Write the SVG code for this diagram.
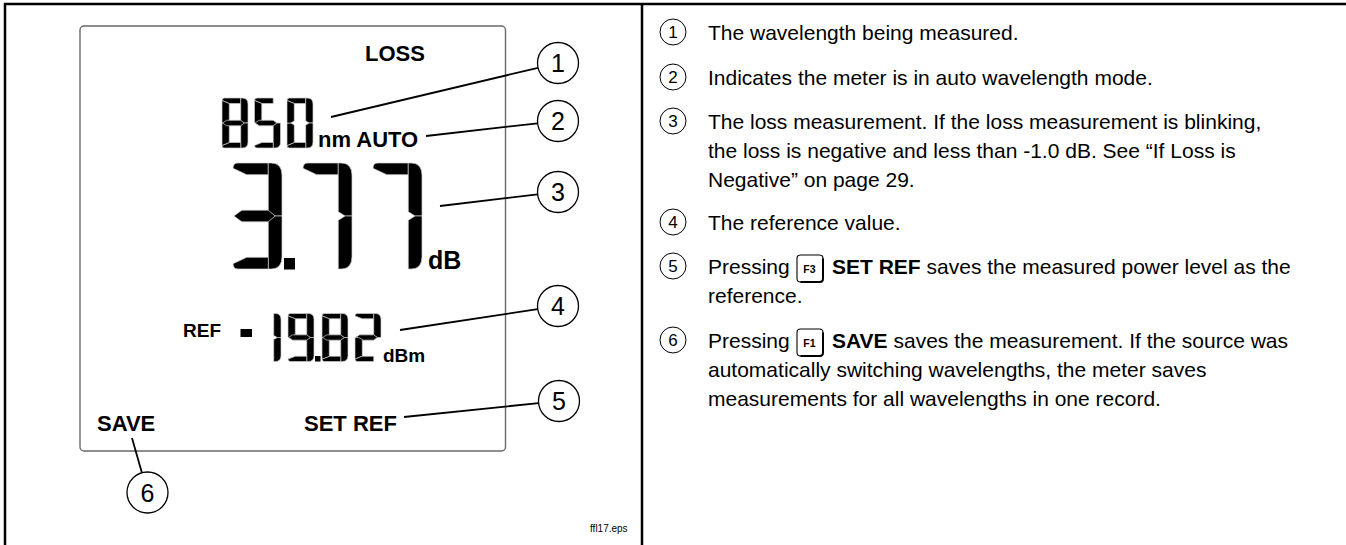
<svg xmlns="http://www.w3.org/2000/svg" width="1346" height="545" viewBox="0 0 1346 545">
<style>
.frame{stroke:#000;stroke-width:2.5;fill:none}
.lcd{fill:none;stroke:#6a6a6a;stroke-width:1.4}
.seg{fill:#000;stroke:#cfcfcf;stroke-width:0.7;vector-effect:non-scaling-stroke;stroke-linejoin:round}
.lb{font-family:"Liberation Sans",Arial,sans-serif;font-weight:bold;fill:#000}
.co{fill:#fff;stroke:#000;stroke-width:1.3}
.cn{font-family:"Liberation Sans",Arial,sans-serif;font-size:25px;text-anchor:middle;fill:#000}
.ld{stroke:#000;stroke-width:1.8;fill:none}
.tx{font-family:"Liberation Sans",Arial,sans-serif;font-size:21px;fill:#000}
.rc{fill:none;stroke:#000;stroke-width:1}
.rn{font-family:"Liberation Sans",Arial,sans-serif;font-size:17px;text-anchor:middle;fill:#000}
.key{fill:#fff;stroke:#000;stroke-width:1.1}
.ksh{fill:none;stroke:#000;stroke-width:2}
.kt{font-family:"Liberation Sans",Arial,sans-serif;font-size:10.5px;font-weight:bold;text-anchor:middle;fill:#000}
.fn{font-family:"Liberation Sans",Arial,sans-serif;font-size:10px;fill:#000}
</style>
<defs>
<path id="sa" class="seg" d="M0,10 Q0,0 10,0 H72 V22 H28 Z"/>
<path id="sb" class="seg" d="M72,0 H78 Q100,0 100,24 V100 H86 L72,92 Z"/>
<path id="sc" class="seg" d="M72,108 L86,100 H100 V176 Q100,200 78,200 H72 Z"/>
<path id="sd" class="seg" d="M0,190 L28,178 H72 V200 H10 Q0,200 0,190 Z"/>
<path id="se" class="seg" d="M0,100 H14 L28,108 V178 L0,190 Z"/>
<path id="sf" class="seg" d="M0,10 L28,22 V92 L14,100 H0 Z"/>
<path id="sg" class="seg" d="M2,100 L18,89 H72 L86,100 L72,111 H18 Z"/>
</defs>

<g id="frame">
<path class="frame" d="M5,545 V4 H1346"/>
<line class="frame" x1="642" y1="4" x2="642" y2="545"/>
</g>

<g id="lcd">
<rect class="lcd" x="80" y="26" width="425.5" height="425" rx="4"/>
</g>

<g id="loss-label"><text class="lb" x="365" y="61" font-size="22">LOSS</text></g>

<g id="wavelength">
<g transform="translate(222,98) scale(0.26,0.25)"><use href="#sa"/><use href="#sb"/><use href="#sc"/><use href="#sd"/><use href="#se"/><use href="#sf"/><use href="#sg"/></g>
<g transform="translate(254.5,98) scale(0.26,0.25)"><use href="#sa"/><use href="#sf"/><use href="#sc"/><use href="#sd"/><use href="#sg"/></g>
<g transform="translate(287,98) scale(0.26,0.25)"><use href="#sa"/><use href="#sb"/><use href="#sc"/><use href="#sd"/><use href="#se"/><use href="#sf"/></g>
<text class="lb" x="318" y="147" font-size="22">nm AUTO</text>
</g>

<g id="loss-value">
<g transform="translate(233,163) scale(0.49,0.53)"><use href="#sa"/><use href="#sb"/><use href="#sc"/><use href="#sd"/><use href="#sg"/></g>
<rect x="284" y="258" width="11" height="11.5" fill="#000"/>
<g transform="translate(303,163) scale(0.49,0.53)"><use href="#sa"/><use href="#sb"/><use href="#sc"/></g>
<g transform="translate(373,163) scale(0.49,0.53)"><use href="#sa"/><use href="#sb"/><use href="#sc"/></g>
<text class="lb" x="428" y="269" font-size="25">dB</text>
</g>

<g id="ref-value">
<text class="lb" x="183" y="337" font-size="19">REF</text>
<rect x="240.5" y="329" width="11.5" height="8" fill="#000"/>
<g transform="translate(255,313.5) scale(0.26,0.24)"><use href="#sb"/><use href="#sc"/></g>
<g transform="translate(288,313.5) scale(0.26,0.24)"><use href="#sa"/><use href="#sb"/><use href="#sc"/><use href="#sd"/><use href="#sf"/><use href="#sg"/></g>
<rect x="315" y="356" width="5.5" height="5.5" fill="#000"/>
<g transform="translate(322,313.5) scale(0.26,0.24)"><use href="#sa"/><use href="#sb"/><use href="#sc"/><use href="#sd"/><use href="#se"/><use href="#sf"/><use href="#sg"/></g>
<g transform="translate(355,313.5) scale(0.26,0.24)"><use href="#sa"/><use href="#sb"/><use href="#sg"/><use href="#se"/><use href="#sd"/></g>
<text class="lb" x="383" y="362" font-size="19">dBm</text>
</g>

<g id="softkeys">
<text class="lb" x="97" y="431" font-size="22">SAVE</text>
<text class="lb" x="304" y="431" font-size="22">SET REF</text>
</g>

<g id="connectors">
<line class="ld" x1="331" y1="117" x2="538" y2="67.8"/>
<line class="ld" x1="426" y1="136" x2="537.6" y2="123.3"/>
<line class="ld" x1="440" y1="206" x2="537.6" y2="194.4"/>
<line class="ld" x1="400" y1="330" x2="537.7" y2="309.1"/>
<line class="ld" x1="404" y1="417" x2="538.6" y2="403.1"/>
<line class="ld" x1="132" y1="438" x2="141.9" y2="472.8"/>
</g>

<g id="callout-1"><circle class="co" cx="558" cy="63" r="20.5"/><text class="cn" x="558" y="72">1</text></g>
<g id="callout-2"><circle class="co" cx="558" cy="121" r="20.5"/><text class="cn" x="558" y="130">2</text></g>
<g id="callout-3"><circle class="co" cx="558" cy="192" r="20.5"/><text class="cn" x="558" y="201">3</text></g>
<g id="callout-4"><circle class="co" cx="558" cy="306" r="20.5"/><text class="cn" x="558" y="315">4</text></g>
<g id="callout-5"><circle class="co" cx="559" cy="401" r="20.5"/><text class="cn" x="559" y="410">5</text></g>
<g id="callout-6"><circle class="co" cx="147.5" cy="492.5" r="20.5"/><text class="cn" x="147.5" y="501.5">6</text></g>

<g id="filename"><text class="fn" x="590" y="532">ffl17.eps</text></g>

<g id="legend-1">
<circle class="rc" cx="673" cy="32" r="13"/><text class="rn" x="673" y="38">1</text>
<text class="tx" x="708" y="39.5">The wavelength being measured.</text>
</g>
<g id="legend-2">
<circle class="rc" cx="673" cy="77" r="13"/><text class="rn" x="673" y="83">2</text>
<text class="tx" x="708" y="84.5">Indicates the meter is in auto wavelength mode.</text>
</g>
<g id="legend-3">
<circle class="rc" cx="673" cy="121" r="13"/><text class="rn" x="673" y="127">3</text>
<text class="tx" x="708" y="128.5">The loss measurement. If the loss measurement is blinking,</text>
<text class="tx" x="708" y="157.5">the loss is negative and less than -1.0 dB. See “If Loss is</text>
<text class="tx" x="708" y="186.5">Negative” on page 29.</text>
</g>
<g id="legend-4">
<circle class="rc" cx="673" cy="222" r="13"/><text class="rn" x="673" y="228">4</text>
<text class="tx" x="708" y="229.5">The reference value.</text>
</g>
<g id="legend-5">
<circle class="rc" cx="673" cy="266" r="13"/><text class="rn" x="673" y="272">5</text>
<text class="tx" x="708" y="273.5">Pressing</text>
<rect class="key" x="797" y="255" width="26" height="27" rx="3.5"/>
<path class="ksh" d="M823,258.5 V278.5 Q823,282 819.5,282 H800.5"/>
<text class="kt" x="809.5" y="272.5">F3</text>
<text class="tx" x="832" y="273.5"><tspan font-weight="bold">SET REF</tspan> saves the measured power level as the</text>
<text class="tx" x="708" y="302.5">reference.</text>
</g>
<g id="legend-6">
<circle class="rc" cx="673" cy="340" r="13"/><text class="rn" x="673" y="346">6</text>
<text class="tx" x="708" y="347.5">Pressing</text>
<rect class="key" x="797" y="329" width="26" height="27" rx="3.5"/>
<path class="ksh" d="M823,332.5 V352.5 Q823,356 819.5,356 H800.5"/>
<text class="kt" x="809.5" y="346.5">F1</text>
<text class="tx" x="832" y="347.5"><tspan font-weight="bold">SAVE</tspan> saves the measurement. If the source was</text>
<text class="tx" x="708" y="376.5">automatically switching wavelengths, the meter saves</text>
<text class="tx" x="708" y="405.5">measurements for all wavelengths in one record.</text>
</g>
</svg>
